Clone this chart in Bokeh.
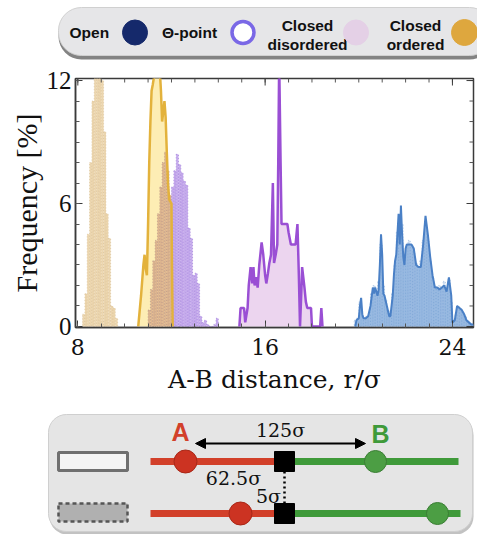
from bokeh.plotting import figure
from bokeh.models import Range1d, FixedTicker, Arrow, NormalHead
from bokeh.embed import file_html
from bokeh.resources import INLINE
from bokeh.core.properties import value

# ---------------- data ----------------
legend_labels = ["Open", "Θ-point", "Closed|disordered", "Closed|ordered"]

# closed ordered, dotted histogram (bin centres, %)
ord_dot_x = [8.25, 8.35, 8.45, 8.55, 8.65, 8.75, 8.85, 8.95, 9.05, 9.15, 9.25, 9.35, 9.45, 9.55, 9.65]
ord_dot_y = [0.6, 1.6, 4.5, 8.0, 11.0, 13.0, 13.0, 12.8, 12.0, 9.5, 5.5, 4.3, 1.0, 0.9, 0.4]

# closed ordered, solid curve
ord_sol_x = [10.58, 10.7, 10.8, 10.85, 10.9, 10.95, 11.0, 11.05, 11.1, 11.15, 11.2, 11.3, 11.35,
             11.45, 11.5, 11.55, 11.6, 11.65, 11.7, 11.75, 11.8, 11.85, 11.9, 12.0, 12.02, 12.05]
ord_sol_y = [0.0, 1.5, 3.0, 3.5, 2.8, 2.5, 5.0, 8.0, 10.0, 11.5, 11.8, 12.5, 13.0,
             13.0, 12.5, 11.5, 10.0, 10.5, 11.0, 10.2, 8.5, 7.0, 6.2, 6.0, 3.0, 0.0]

# theta-point, dotted histogram
th_dot_x = [11.05, 11.15, 11.25, 11.35, 11.45, 11.55, 11.65, 11.75, 11.85, 11.95,
            12.05, 12.15, 12.25, 12.35, 12.45, 12.55, 12.65, 12.75, 12.85, 12.95,
            13.05, 13.15, 13.25, 13.35, 13.45, 13.55, 13.65, 13.75, 13.85, 13.95]
th_dot_y = [0.8, 1.8, 3.2, 4.2, 5.5, 6.8, 8.0, 8.5, 7.6, 6.4,
            6.8, 7.6, 8.4, 7.9, 7.5, 7.1, 6.9, 4.8, 4.3, 2.5,
            2.6, 2.1, 0.5, 0.2, 0.3, 0.1, 0.0, 0.0, 0.1, 0.4]

# theta-point / closed disordered, solid curve
th_sol_x = [14.9, 14.95, 15.1, 15.15, 15.25, 15.3, 15.38, 15.45, 15.5, 15.55, 15.62, 15.68, 15.75,
            15.85, 15.92, 16.0, 16.05, 16.12, 16.18, 16.25, 16.33, 16.38, 16.45, 16.52, 16.56, 16.6,
            16.66, 16.7, 16.8, 16.95, 17.0, 17.1, 17.3, 17.38, 17.44, 17.49, 17.54, 17.58, 17.63,
            17.68, 17.74, 17.8, 17.96, 18.0, 18.35, 18.4, 18.45]
th_sol_y = [0.0, 0.9, 0.9, 0.2, 0.9, 2.0, 2.9, 2.1, 2.9, 2.0, 2.4, 1.9, 3.0,
            4.1, 3.5, 2.5, 2.1, 2.6, 3.1, 3.5, 7.0, 3.1, 3.5, 4.0, 8.0, 13.0,
            8.0, 5.0, 5.0, 5.0, 4.6, 4.0, 4.0, 5.0, 2.5, 0.0, 1.5, 2.9, 2.4,
            1.9, 1.2, 0.9, 0.9, 0.0, 0.0, 0.9, 0.0]

# open, solid curve
op_sol_x = [19.85, 19.9, 20.0, 20.05, 20.1, 20.15, 20.2, 20.3, 20.4, 20.5, 20.6, 20.65, 20.7,
            20.8, 20.85, 20.9, 20.95, 21.0, 21.05, 21.1, 21.2, 21.3, 21.35, 21.45, 21.5, 21.55,
            21.6, 21.65, 21.7, 21.75, 21.8, 21.85, 21.9, 21.95, 22.0, 22.05, 22.15, 22.25, 22.35,
            22.45, 22.55, 22.65, 22.75, 22.85, 22.95, 23.05, 23.15, 23.25, 23.35, 23.45, 23.55,
            23.65, 23.75, 23.85, 23.95, 24.0, 24.1, 24.2, 24.3, 24.4, 24.5, 24.6, 24.7, 24.8, 24.9]
op_sol_y = [0.0, 0.3, 0.4, 1.0, 1.4, 0.6, 0.4, 0.4, 0.5, 1.0, 1.9, 1.6, 1.9,
            1.5, 1.8, 3.0, 4.5, 3.5, 1.6, 1.5, 1.0, 0.5, 0.5, 1.5, 2.5, 3.2,
            3.5, 4.5, 5.5, 4.0, 5.9, 4.5, 3.4, 3.0, 3.8, 4.0, 4.0, 4.0, 3.8,
            3.0, 2.9, 2.9, 4.0, 5.4, 4.5, 3.4, 2.5, 1.9, 1.9, 1.8, 1.9,
            2.0, 1.7, 2.4, 1.5, 0.2, 0.3, 1.0, 0.9, 0.8, 0.6, 0.3, 0.2, 0.1, 0.1]

# open, dotted histogram
op_dot_x = [19.85, 19.95, 20.05, 20.15, 20.25, 20.35, 20.45, 20.55, 20.65, 20.75, 20.85, 20.95,
            21.05, 21.15, 21.25, 21.35, 21.45, 21.55, 21.65, 21.75, 21.85, 21.95, 22.05, 22.15,
            22.25, 22.35, 22.45, 22.55, 22.65, 22.75, 22.85, 22.95, 23.05, 23.15, 23.25, 23.35,
            23.45, 23.55, 23.65, 23.75, 23.85, 23.95, 24.05, 24.15, 24.25, 24.35, 24.45, 24.55,
            24.65, 24.75, 24.85]
op_dot_y = [0.3, 0.4, 1.2, 0.5, 0.4, 0.5, 0.6, 1.6, 2.0, 1.7, 2.2, 4.0,
            2.0, 1.3, 0.8, 0.6, 1.6, 3.0, 4.6, 5.2, 5.0, 3.3, 3.9, 4.2,
            4.0, 3.6, 3.1, 2.9, 3.2, 4.2, 5.0, 4.2, 3.2, 2.4, 2.0, 1.8,
            2.0, 1.9, 2.2, 1.8, 2.3, 1.2, 0.3, 0.6, 1.0, 0.9, 0.7, 0.5,
            0.3, 0.2, 0.1]

x_ticks = [8, 16, 24]
x_minor = [8, 9, 10, 11, 12, 13, 14, 15, 16, 17, 18, 19, 20, 21, 22, 23, 24]
y_ticks = [0, 6, 12]
y_minor = [0, 1, 2, 3, 4, 5, 6, 7, 8, 9, 10, 11, 12]

BIN = 0.1
W = 477
sans = value("Liberation Sans")
dserif = value("DejaVu Serif")

# ---------------- legend strip ----------------
LH = 60
lg = figure(width=W, height=LH, x_range=Range1d(0, W), y_range=Range1d(LH, 0),
            output_backend="svg", toolbar_location=None, x_axis_type=None, y_axis_type=None,
            min_border=0, outline_line_color=None)
lg.grid.visible = False
lg.quad(left=[58], right=[492], top=[10], bottom=[59], border_radius=23,
        fill_color="#5a5a5a", fill_alpha=0.75, line_color=None)
lg.quad(left=[58], right=[492], top=[7], bottom=[55], border_radius=23,
        fill_color="#e6e6e8", line_color="#d0d0d0", line_width=1)
lg.text(x=[69], y=[32], text=[legend_labels[0]], text_font=sans, text_font_style="bold",
        text_font_size="15.5px", text_align="left", text_baseline="middle", text_color="#111111")
lg.text(x=[189], y=[32], text=[legend_labels[1]], text_font=sans, text_font_style="bold",
        text_font_size="15.5px", text_align="center", text_baseline="middle", text_color="#111111")
for cx, lab in [(307, legend_labels[2]), (415, legend_labels[3])]:
    top_t, bot_t = lab.split("|")
    lg.text(x=[cx], y=[25], text=[top_t], text_font=sans, text_font_style="bold",
            text_font_size="15.5px", text_align="center", text_baseline="middle", text_color="#111111")
    lg.text(x=[cx], y=[44], text=[bot_t], text_font=sans, text_font_style="bold",
            text_font_size="15.5px", text_align="center", text_baseline="middle", text_color="#111111")
lg.scatter(x=[134.5], y=[32], size=25, marker="circle", fill_color="#15296b", line_color="#15296b")
lg.scatter(x=[242.5], y=[32], size=22, marker="circle", fill_color="white", line_color="#7a68e6", line_width=3.5)
lg.scatter(x=[355.5], y=[32], size=25, marker="circle", fill_color="#e4d0e6", line_color="#e4d0e6")
lg.scatter(x=[464], y=[32], size=26, marker="circle", fill_color="#dea73e", line_color="#dea73e")

# ---------------- main histogram ----------------
X0, X1, Y0, Y1 = 7.9, 24.9, -0.05, 12.1
p = figure(width=W, height=342, x_range=Range1d(X0, X1), y_range=Range1d(Y0, Y1),
           output_backend="svg", toolbar_location=None,
           min_border_left=75, min_border_right=4, min_border_top=18, min_border_bottom=75,
           outline_line_color="#3a3a3a", outline_line_width=1.5)
p.grid.visible = False

# closed ordered (dotted)
p.vbar(x=ord_dot_x, top=ord_dot_y, bottom=0, width=BIN, fill_color="#ecd6ae",
       line_color="#d6bd93", line_alpha=0.6, line_dash="1 2", line_width=1)
# closed ordered (solid) fill
p.varea(x=ord_sol_x, y1=0, y2=ord_sol_y, fill_color="#fdedb4")
# theta (dotted); portion beneath the ordered solid fill appears brownish
th_cols = ["#ddb58f" if xv < 12.0 else "#c5aaec" for xv in th_dot_x]
th_lines = ["#b8968a" if xv < 12.0 else "#a283dc" for xv in th_dot_x]
p.vbar(x=th_dot_x, top=th_dot_y, bottom=0, width=BIN, fill_color=th_cols,
       line_color=th_lines, line_alpha=0.7, line_dash="1 2", line_width=1)
p.line(x=ord_sol_x, y=ord_sol_y, line_color="#e3b23c", line_width=2.5)
# theta / disordered solid
p.varea(x=th_sol_x, y1=0, y2=th_sol_y, fill_color="#ecd5ef")
p.line(x=th_sol_x, y=th_sol_y, line_color="#9a4fd4", line_width=2.5)
# open
p.varea(x=op_sol_x, y1=0, y2=op_sol_y, fill_color="#98bae2")
p.vbar(x=op_dot_x, top=op_dot_y, bottom=0, width=BIN, fill_color="#98bae2", fill_alpha=0.4,
       line_color="#7aa3d6", line_alpha=0.5, line_dash="1 2", line_width=1)
p.line(x=op_sol_x, y=op_sol_y, line_color="#4a80c6", line_width=2)

# mirrored inward ticks on the top and right frame edges (from the same tick lists)
ypx = (Y1 - Y0) / 249.0
xpx = (X1 - X0) / 398.0
p.segment(x0=x_minor, y0=[Y1] * len(x_minor), x1=x_minor, y1=[Y1 - 4 * ypx] * len(x_minor),
          line_color="#555555", line_width=1)
p.segment(x0=x_ticks, y0=[Y1] * len(x_ticks), x1=x_ticks, y1=[Y1 - 7 * ypx] * len(x_ticks),
          line_color="#3a3a3a", line_width=1)
p.segment(x0=[X1] * len(y_minor), y0=y_minor, x1=[X1 - 4 * xpx] * len(y_minor), y1=y_minor,
          line_color="#555555", line_width=1)
p.segment(x0=[X1] * len(y_ticks), y0=y_ticks, x1=[X1 - 7 * xpx] * len(y_ticks), y1=y_ticks,
          line_color="#3a3a3a", line_width=1)

p.xaxis.ticker = FixedTicker(ticks=x_ticks, minor_ticks=x_minor)
p.yaxis.ticker = FixedTicker(ticks=y_ticks, minor_ticks=y_minor)
p.xaxis.axis_label = "A-B distance, r/σ"
p.yaxis.axis_label = "Frequency [%]"
p.xaxis.axis_label_text_font = "DejaVu Serif"
p.xaxis.axis_label_text_font_size = "25px"
p.xaxis.axis_label_text_font_style = "normal"
p.xaxis.major_label_text_font = "DejaVu Serif"
p.xaxis.major_label_text_font_size = "22px"
p.xaxis.major_label_standoff = 11
p.xaxis.axis_label_standoff = 7
p.yaxis.axis_label_text_font = "Liberation Serif"
p.yaxis.axis_label_text_font_size = "30px"
p.yaxis.axis_label_text_font_style = "normal"
p.yaxis.major_label_text_font = "Liberation Serif"
p.yaxis.major_label_text_font_size = "25px"
p.yaxis.major_label_standoff = 4
p.yaxis.axis_label_standoff = 1
for ax in p.axis:
    ax.major_tick_in = 7
    ax.major_tick_out = 0
    ax.minor_tick_in = 4
    ax.minor_tick_out = 0
    ax.axis_line_color = "#3a3a3a"
    ax.axis_line_width = 1.5
    ax.major_tick_line_color = "#3a3a3a"
    ax.minor_tick_line_color = "#555555"
    ax.axis_label_text_color = "#111111"
    ax.major_label_text_color = "#111111"

# ---------------- schematic ----------------
SH = 132
sc = figure(width=W, height=SH, x_range=Range1d(0, W), y_range=Range1d(SH, 0),
            output_backend="svg", toolbar_location=None, x_axis_type=None, y_axis_type=None,
            min_border=0, outline_line_color=None)
sc.grid.visible = False
sc.quad(left=[49], right=[473], top=[15], bottom=[132], border_radius=18,
        fill_color="#9a9a9a", fill_alpha=0.6, line_color=None)
sc.quad(left=[48], right=[472], top=[12], bottom=[129], border_radius=18,
        fill_color="#e5e5e5", line_color="#cfcfcf", line_width=1)
# icons
sc.quad(left=[58], right=[127], top=[50], bottom=[68], fill_color="#f4f4f4",
        line_color="#6f6f6f", line_width=3)
sc.quad(left=[58], right=[127], top=[101], bottom=[119], fill_color="#b0b0b0",
        line_color="#555555", line_width=2.5, line_dash="4 3")
RED, GREEN = "#d2402a", "#3f9a3a"
for yy, xa, xb, xend in [(59, 185, 375, 458), (111, 240, 437, 460)]:
    sc.segment(x0=[150], y0=[yy], x1=[284], y1=[yy], line_color=RED, line_width=7)
    sc.segment(x0=[284], y0=[yy], x1=[xend], y1=[yy], line_color=GREEN, line_width=7)
    sc.scatter(x=[xa], y=[yy], size=23, marker="circle", fill_color="#cc3322", line_color="#a82818", line_width=1)
    sc.scatter(x=[xb], y=[yy], size=22, marker="circle", fill_color="#4c9e44", line_color="#3a7e34", line_width=1)
sc.segment(x0=[284], y0=[69], x1=[284], y1=[102], line_color="black", line_width=2.5, line_dash="2 3")
sc.scatter(x=[284, 284], y=[59, 111], size=20, marker="square", fill_color="black", line_color="black")
sc.add_layout(Arrow(start=NormalHead(size=10, fill_color="black", line_color="black"),
                    end=NormalHead(size=10, fill_color="black", line_color="black"),
                    x_start=195, y_start=41, x_end=365, y_end=41, line_width=2, line_color="black"))
sc.text(x=[180], y=[29], text=["A"], text_font=sans, text_font_style="bold", text_font_size="25px",
        text_align="center", text_baseline="middle", text_color=RED)
sc.text(x=[380], y=[31], text=["B"], text_font=sans, text_font_style="bold", text_font_size="25px",
        text_align="center", text_baseline="middle", text_color=GREEN)
sc.text(x=[280], y=[27], text=["125σ"], text_font=dserif, text_font_size="19px",
        text_align="center", text_baseline="middle", text_color="#111111")
sc.text(x=[233], y=[75], text=["62.5σ"], text_font=dserif, text_font_size="19px",
        text_align="center", text_baseline="middle", text_color="#111111")
sc.text(x=[268], y=[93], text=["5σ"], text_font=dserif, text_font_size="19px",
        text_align="center", text_baseline="middle", text_color="#111111")

open("out.html", "w").write(file_html([lg, p, sc], INLINE))
